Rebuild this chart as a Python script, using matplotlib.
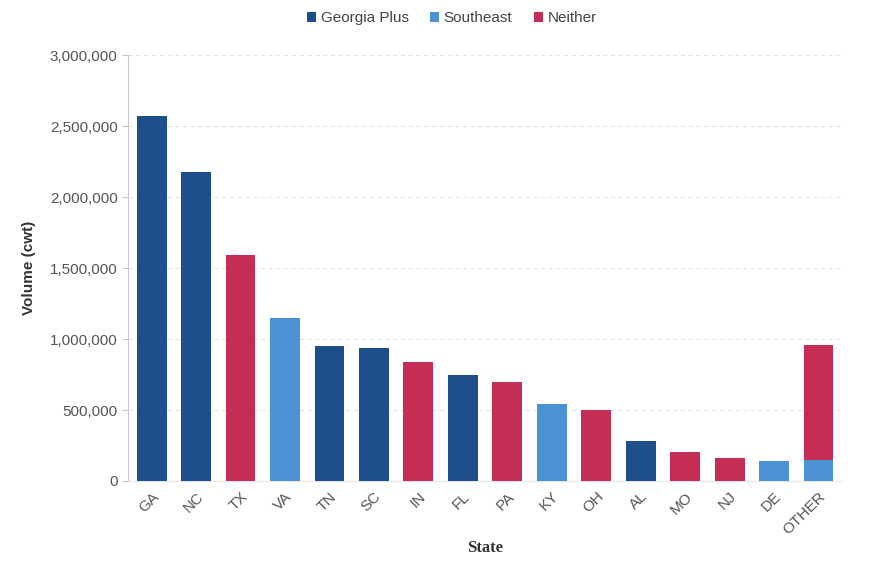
import numpy as np
import matplotlib
matplotlib.use("Agg")
import matplotlib.pyplot as plt
from matplotlib.ticker import FuncFormatter

# values (cwt)
states = ["GA", "NC", "TX", "VA", "TN", "SC", "IN", "FL", "PA", "KY",
          "OH", "AL", "MO", "NJ", "DE", "OTHER"]
georgia_plus = [2570000, 2180000, 0, 0, 950000, 935000, 0, 750000, 0, 0,
                0, 280000, 0, 0, 0, 0]
southeast = [0, 0, 0, 1150000, 0, 0, 0, 0, 0, 540000,
             0, 0, 0, 0, 140000, 150000]
neither = [0, 0, 1590000, 0, 0, 0, 840000, 0, 700000, 0,
           500000, 0, 205000, 160000, 0, 805000]

c_gp = "#1f4f8b"
c_se = "#4a92d4"
c_ne = "#c42d55"

plt.rcParams["font.family"] = ["Liberation Sans", "DejaVu Sans"]

fig = plt.figure(figsize=(8.74, 5.75), dpi=100)
ax = fig.add_axes([0.1465, 0.1635, 0.817, 0.7405])

x = np.arange(len(states))
w = 0.67
gp = np.array(georgia_plus)
se = np.array(southeast)
ne = np.array(neither)

ax.bar(x, gp, w, color=c_gp, label="Georgia Plus", zorder=3)
ax.bar(x, se, w, bottom=gp, color=c_se, label="Southeast", zorder=3)
ax.bar(x, ne, w, bottom=gp + se, color=c_ne, label="Neither", zorder=3)

ax.set_xlim(-0.53, len(states) - 0.47)
ax.set_ylim(0, 3000000)
ax.set_yticks(np.arange(0, 3000001, 500000))
ax.yaxis.set_major_formatter(FuncFormatter(lambda v, p: f"{int(v):,}"))
ax.yaxis.grid(True, color="#e4e4e4", linestyle=(0, (4, 3)), linewidth=0.8, zorder=0)

ax.set_xticks(x)
ax.set_xticklabels(states, rotation=45, ha="right", rotation_mode="anchor")

for s in ["top", "right"]:
    ax.spines[s].set_visible(False)
ax.spines["left"].set_color("#c8c8c8")
ax.spines["bottom"].set_color("#e6e6e6")
ax.tick_params(axis="y", colors="#c8c8c8", labelcolor="#555555", labelsize=11, length=4)
ax.tick_params(axis="x", length=0, labelcolor="#555555", labelsize=11, pad=6)

ax.set_ylabel("Volume (cwt)", fontsize=11, fontweight="bold", color="#333333", labelpad=10)
ax.set_xlabel("State", fontsize=12, fontweight="bold", color="#333333",
              family=["Liberation Serif", "DejaVu Serif"], labelpad=2)

fig.legend(loc="center", bbox_to_anchor=(0.517, 0.968), ncol=3, frameon=False,
           fontsize=11, handlelength=0.6, handleheight=0.6, handletextpad=0.3,
           columnspacing=1.4, labelcolor="#444444")

fig.savefig("out.png", dpi=100)
